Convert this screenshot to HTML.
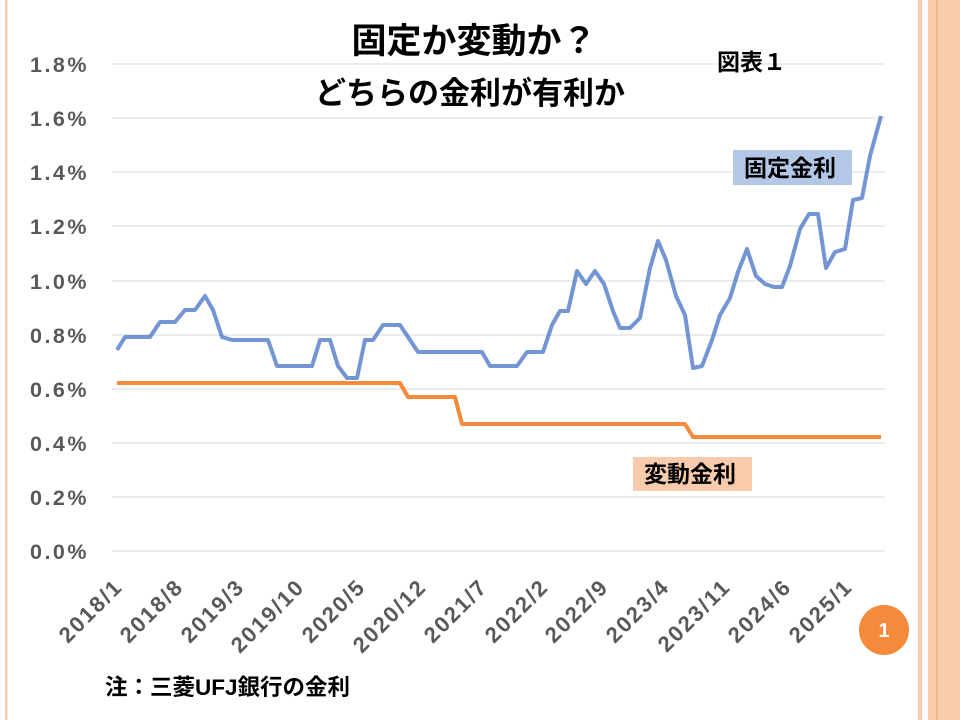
<!DOCTYPE html>
<html><head><meta charset="utf-8"><style>
body{margin:0;width:960px;height:720px;overflow:hidden;background:#fff;}
svg{display:block;font-family:"Liberation Sans","Noto Sans CJK JP",sans-serif;}
</style></head><body>
<svg width="960" height="720" viewBox="0 0 960 720">
<rect x="5" y="0" width="2.5" height="720" fill="#f8cbad"/>
<rect x="918" y="0" width="4" height="720" fill="#f8cbad"/>
<rect x="928" y="0" width="32" height="720" fill="#f8cbad"/>
<rect x="936" y="0" width="1.5" height="720" fill="#f4b183"/>
<g stroke="#d9d9d9" stroke-width="1">
<line x1="112" x2="885" y1="64" y2="64"/><line x1="112" x2="885" y1="118" y2="118"/>
<line x1="112" x2="885" y1="172" y2="172"/><line x1="112" x2="885" y1="226" y2="226"/>
<line x1="112" x2="885" y1="281" y2="281"/><line x1="112" x2="885" y1="335" y2="335"/>
<line x1="112" x2="885" y1="389" y2="389"/><line x1="112" x2="885" y1="443" y2="443"/>
<line x1="112" x2="885" y1="497" y2="497"/><line x1="112" x2="885" y1="551" y2="551"/>
</g>
<g fill="#595959" font-size="21.5" font-weight="bold" text-anchor="end" letter-spacing="2.5">
<text x="89" y="72">1.8%</text><text x="89" y="126">1.6%</text><text x="89" y="180">1.4%</text>
<text x="89" y="234">1.2%</text><text x="89" y="289">1.0%</text><text x="89" y="343">0.8%</text>
<text x="89" y="397">0.6%</text><text x="89" y="451">0.4%</text><text x="89" y="505">0.2%</text>
<text x="89" y="559">0.0%</text>
</g>
<g fill="#595959" font-size="22" font-weight="bold" text-anchor="end" letter-spacing="2">
<text transform="translate(124,588) rotate(-45)">2018/1</text>
<text transform="translate(185,588) rotate(-45)">2018/8</text>
<text transform="translate(246,588) rotate(-45)">2019/3</text>
<text transform="translate(306,588) rotate(-45)">2019/10</text>
<text transform="translate(367,588) rotate(-45)">2020/5</text>
<text transform="translate(428,588) rotate(-45)">2020/12</text>
<text transform="translate(489,588) rotate(-45)">2021/7</text>
<text transform="translate(550,588) rotate(-45)">2022/2</text>
<text transform="translate(610,588) rotate(-45)">2022/9</text>
<text transform="translate(671,588) rotate(-45)">2023/4</text>
<text transform="translate(732,588) rotate(-45)">2023/11</text>
<text transform="translate(793,588) rotate(-45)">2024/6</text>
<text transform="translate(854,588) rotate(-45)">2025/1</text>
</g>
<polyline fill="none" stroke="#4472c4" stroke-opacity="0.75" stroke-width="4" stroke-linejoin="round" points="117,350 125,337 150,337 160,322 175,322 185,310 195,310 205,296 213,310 222,337 232,340 268,340 277,366 312,366 320,340 330,340 338,366 347,378 357,378 365,340 373,340 383,325 400,325 418,352 482,352 490,366 517,366 527,352 543,352 552,325 560,311 568,311 577,271 586,284 595,271 604,284 613,311 620,328 630,328 640,318 650,268 658,241 666,260 676,296 685,315 693,368 702,366 712,340 720,315 730,298 738,272 747,249 756,276 765,284 774,287 782,287 790,266 800,229 809,214 818,214 826,268 835,252 845,249 853,200 862,198 870,156 881,116"/>
<polyline fill="none" stroke="#f58a3a" stroke-width="4" stroke-linejoin="round" points="117,383 400,383 408,397 455,397 462,424 685,424 693,437 881,437"/>
<text x="474" y="53" text-anchor="middle" font-size="35" font-weight="bold" fill="#000">固定か変動か？</text>
<text x="470" y="104" text-anchor="middle" font-size="31" font-weight="bold" fill="#000">どちらの金利が有利か</text>
<text x="717" y="70" font-size="23" font-weight="bold" fill="#000">図表１</text>
<rect x="733" y="150" width="119" height="35" fill="#b4c7e7"/>
<text x="790" y="176" text-anchor="middle" font-size="23" font-weight="bold" fill="#000">固定金利</text>
<rect x="633" y="457" width="119" height="34" fill="#f8cbad"/>
<text x="690" y="482" text-anchor="middle" font-size="23" font-weight="bold" fill="#000">変動金利</text>
<circle cx="884" cy="630" r="25" fill="#f58a3a"/>
<text x="884" y="637" text-anchor="middle" font-size="20" font-weight="bold" fill="#fff">1</text>
<text x="105" y="695" font-size="22.5" font-weight="bold" fill="#000">注：三菱UFJ銀行の金利</text>
</svg>
</body></html>
